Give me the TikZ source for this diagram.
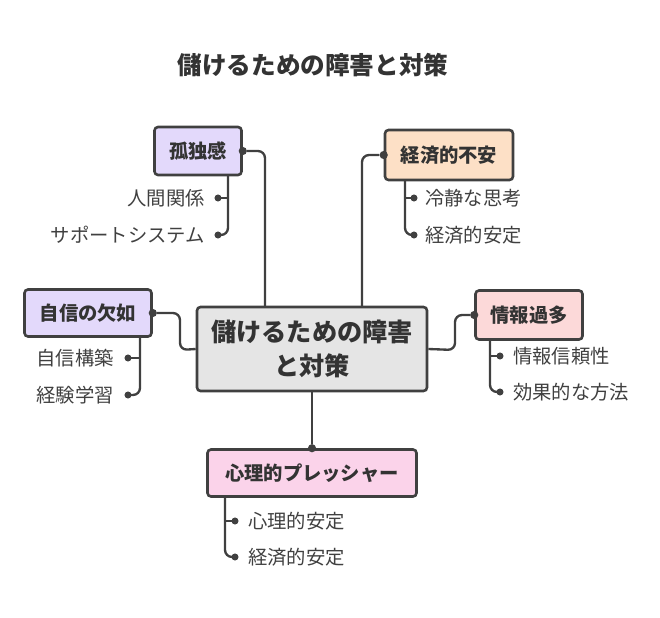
\documentclass[tikz,border=0pt]{standalone}
\usepackage{fontspec}
\setmainfont{Noto Sans CJK JP}
\definecolor{lav}{HTML}{E3D9FB}
\definecolor{peach}{HTML}{FDE0C6}
\definecolor{pinkr}{HTML}{FCD9D9}
\definecolor{pinkm}{HTML}{FBD3EA}
\begin{document}
\begin{tikzpicture}[x=0.03cm,y=-0.03cm,
  box/.style={draw=black!75,line width=2.2pt,rounded corners=3pt,inner sep=0pt,font=\bfseries\fontsize{16.5}{19}\selectfont,text=black!80},
  ln/.style={draw=black!75,line width=2pt,rounded corners=6pt},
  dot/.style={circle,fill=black!75,inner sep=0pt,minimum size=7pt},
  lab/.style={font=\fontsize{16.5}{18}\selectfont,text=black!75,inner sep=0pt}]
\useasboundingbox (0,0) rectangle (660,618);
\node[font=\bfseries\fontsize{21}{24}\selectfont,text=black!80] (title) at (313,65) {儲けるための障害と対策};
\node[box,fill=black!10,minimum width=230*0.03cm,minimum height=84*0.03cm,align=center,font=\bfseries\fontsize{21.5}{29}\selectfont] (c) at (312,349) {儲けるための障害\\と対策};
\node[box,fill=lav,minimum width=87*0.03cm,minimum height=48*0.03cm] (a) at (198,151) {孤独感};
\node[box,fill=peach,minimum width=128*0.03cm,minimum height=50*0.03cm] (b) at (449,155) {経済的不安};
\node[box,fill=lav,minimum width=127*0.03cm,minimum height=47*0.03cm] (d) at (88,313) {自信の欠如};
\node[box,fill=pinkr,minimum width=107*0.03cm,minimum height=49*0.03cm] (e) at (529,315) {情報過多};
\node[box,fill=pinkm,minimum width=209*0.03cm,minimum height=47*0.03cm] (f) at (312,473) {心理的プレッシャー};
% connectors
\node[dot] (ad) at (a.east) {}; \draw[ln] (ad) -- (265,151) -- (265,307);
\node[dot] (bd) at (b.west) {}; \draw[ln] (bd) -- (362,155) -- (362,307);
\node[dot] (dd) at (d.east) {}; \draw[ln] (dd) -- (180,313) -- (180,350) -- (c.west);
\node[dot] (ed) at (e.west) {}; \draw[ln] (ed) -- (455,315) -- (455,350) -- (c.east);
\node[dot] (fd) at (f.north) {}; \draw[ln] (fd) -- (c.south);
% sub items
\node[lab,anchor=east] (a1) at (205,198) {人間関係};
\node[lab,anchor=east] (a2) at (205,235) {サポートシステム};
\draw[ln] (228,175) -- (228,235) -- (218,235); \draw[ln] (228,198) -- (218,198);
\node[dot,minimum size=6pt] at (218,198) {}; \node[dot,minimum size=6pt] at (218,235) {};
\node[lab,anchor=west] (b1) at (425,198) {冷静な思考};
\node[lab,anchor=west] (b2) at (425,235) {経済的安定};
\draw[ln] (405,180) -- (405,235) -- (414,235); \draw[ln] (405,198) -- (414,198);
\node[dot,minimum size=6pt] at (414,198) {}; \node[dot,minimum size=6pt] at (414,235) {};
\node[lab,anchor=east] (d1) at (114,358) {自信構築};
\node[lab,anchor=east] (d2) at (114,395) {経験学習};
\draw[ln] (140,337) -- (140,395) -- (128,395); \draw[ln] (140,358) -- (128,358);
\node[dot,minimum size=6pt] at (128,358) {}; \node[dot,minimum size=6pt] at (128,395) {};
\node[lab,anchor=west] (e1) at (513,356) {情報信頼性};
\node[lab,anchor=west] (e2) at (513,392) {効果的な方法};
\draw[ln] (490,340) -- (490,392) -- (500,392); \draw[ln] (490,356) -- (500,356);
\node[dot,minimum size=6pt] at (500,356) {}; \node[dot,minimum size=6pt] at (500,392) {};
\node[lab,anchor=west] (f1) at (248,521) {心理的安定};
\node[lab,anchor=west] (f2) at (248,557) {経済的安定};
\draw[ln] (225,497) -- (225,557) -- (235,557); \draw[ln] (225,521) -- (235,521);
\node[dot,minimum size=6pt] at (235,521) {}; \node[dot,minimum size=6pt] at (235,557) {};
\end{tikzpicture}
\end{document}
